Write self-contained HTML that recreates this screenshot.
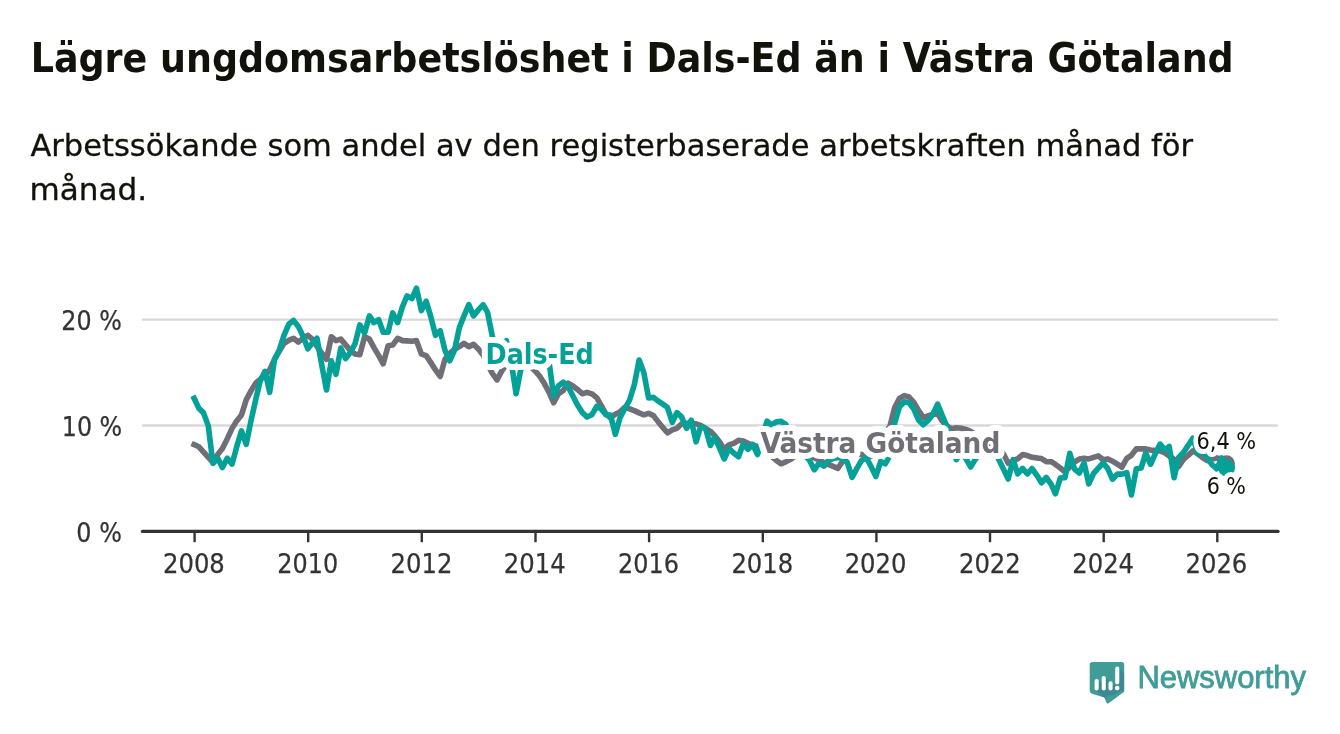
<!DOCTYPE html>
<html lang="sv">
<head>
<meta charset="utf-8">
<title>Lägre ungdomsarbetslöshet i Dals-Ed än i Västra Götaland</title>
<style>
  html, body { margin: 0; padding: 0; background: #ffffff; }
  body { width: 1340px; height: 734px; overflow: hidden; position: relative;
         font-family: "DejaVu Sans", "Liberation Sans", sans-serif; }
  svg { position: absolute; left: 0; top: 0; display: block; will-change: transform; }
  .title { font-family: "DejaVu Sans Condensed", "DejaVu Sans", "Liberation Sans", sans-serif;
           font-weight: bold; font-size: 40.6px; fill: #12120b; }
  .sub { font-family: "DejaVu Sans", "Liberation Sans", sans-serif; font-size: 30.3px; fill: #12120b; stroke: #12120b; stroke-width: 0.3px; }
  .ax { font-family: "DejaVu Sans", "Liberation Sans", sans-serif; font-size: 26.3px; fill: #333333; stroke: #333333; stroke-width: 0.25px; }
  .ser { font-family: "DejaVu Sans Condensed", "DejaVu Sans", "Liberation Sans", sans-serif;
         font-weight: bold; font-size: 28.4px; paint-order: stroke fill;
         stroke: #ffffff; stroke-width: 12px; stroke-linejoin: round; }
  .val { font-family: "DejaVu Sans", "Liberation Sans", sans-serif; font-size: 22.5px; fill: #12120b;
         paint-order: stroke fill; stroke: #ffffff; stroke-width: 10px; stroke-linejoin: round; }
  .brand { font-family: "Liberation Sans", sans-serif; font-weight: normal; font-size: 31px; fill: #419c97; stroke: #419c97; stroke-width: 0.8px; }
</style>
</head>
<body>
<svg width="1340" height="734" viewBox="0 0 1340 734">
  <rect width="1340" height="734" fill="#ffffff"/>

  <!-- headline -->
  <text class="title" x="30.69" y="71.8" textLength="1203.01" lengthAdjust="spacingAndGlyphs">Lägre ungdomsarbetslöshet i Dals-Ed än i Västra Götaland</text>
  <text class="sub" x="30.40" y="156.4" textLength="1162.60" lengthAdjust="spacingAndGlyphs">Arbetssökande som andel av den registerbaserade arbetskraften månad för</text>
  <text class="sub" x="29.52" y="199.6" textLength="117.67" lengthAdjust="spacingAndGlyphs">månad.</text>

  <!-- grid -->
  <g stroke="#d9d9d9" stroke-width="2.3" stroke-linecap="butt">
    <line x1="142" y1="319.7" x2="1278" y2="319.7"/>
    <line x1="142" y1="425.5" x2="1278" y2="425.5"/>
  </g>

  <!-- y labels -->
  <g><text class="ax" x="61.35" y="330.0" textLength="60.50" lengthAdjust="spacingAndGlyphs">20 %</text><text class="ax" x="61.75" y="435.8" textLength="60.48" lengthAdjust="spacingAndGlyphs">10 %</text><text class="ax" x="76.37" y="541.6" textLength="45.48" lengthAdjust="spacingAndGlyphs">0 %</text></g>

  <!-- series -->
  <g display="inline">
  <g fill="none" stroke-width="5.6" stroke-linejoin="round" stroke-linecap="square">
    <polyline stroke="#706e76" points="194.1,444.6 198.9,446.8 203.4,451.9 208.3,457.4 212.9,462.2 217.7,454.4 222.4,448.6 227.2,438.9 232.1,428.4 236.7,420.9 241.5,414.9 246.2,399.9 251.0,390.9 255.9,382.9 260.2,379.4 265.0,374.9 269.7,369.8 274.5,359.3 279.2,351.3 284.0,343.4 288.8,340.4 293.5,338.3 298.3,342.1 303.0,338.4 307.8,335.3 312.6,339.4 317.0,346.4 321.8,353.3 326.5,359.3 331.3,336.8 336.0,340.6 340.8,339.1 345.6,344.9 350.3,350.4 355.1,354.1 359.8,354.8 364.6,336.8 369.4,339.1 373.8,347.4 378.6,355.4 383.2,363.8 388.1,345.8 392.7,345.1 397.6,338.3 402.4,340.6 407.0,340.9 411.9,341.3 416.5,340.6 421.4,354.1 426.2,355.6 430.7,362.4 435.5,369.9 440.2,376.5 445.0,359.3 449.7,353.4 454.5,349.4 459.3,346.6 464.0,343.4 468.8,346.6 473.5,344.4 478.3,348.9 483.1,354.9 487.5,364.4 492.3,373.4 497.0,379.9 501.8,370.9 506.4,364.4 511.3,362.4 516.1,361.4 520.8,361.4 525.6,363.4 530.2,366.4 535.1,370.9 539.9,376.4 544.2,383.3 549.1,392.4 553.7,402.8 558.5,393.8 563.2,390.6 568.0,383.2 572.9,385.9 577.5,389.4 582.3,393.8 587.0,392.3 591.8,393.8 596.7,397.6 601.0,405.2 605.8,413.9 610.5,417.9 615.3,414.2 620.0,411.9 624.8,407.4 629.6,408.8 634.3,410.6 639.1,412.9 643.8,414.8 648.6,413.3 653.4,415.6 657.9,421.4 662.8,427.4 667.4,432.8 672.3,429.8 676.9,428.3 681.7,423.8 686.6,423.4 691.2,423.6 696.1,423.8 700.7,425.3 705.5,428.4 710.4,431.3 714.7,435.8 719.5,441.8 724.2,449.3 729.0,444.8 733.7,443.3 738.5,440.3 743.3,441.0 748.0,443.3 752.8,444.9 757.5,446.9 762.3,449.4 767.1,452.4 771.5,456.4 776.3,460.4 781.0,463.8 785.8,461.9 790.5,459.4 795.3,455.9 800.1,454.4 804.8,454.4 809.6,455.4 814.3,457.9 819.1,459.9 823.9,462.4 828.3,464.4 833.1,466.4 837.8,468.3 842.6,461.4 847.2,456.4 852.1,454.4 856.9,454.4 861.6,454.4 866.4,455.4 871.0,456.4 875.9,452.4 880.7,445.4 885.2,433.4 890.0,426.0 894.7,407.5 899.5,398.4 904.2,395.6 909.0,397.0 913.8,402.4 918.5,410.4 923.3,417.6 928.0,415.9 932.8,414.4 937.6,413.4 942.0,420.9 946.8,425.9 951.5,428.8 956.3,427.7 961.0,428.2 965.8,429.4 970.6,431.4 975.3,434.4 980.1,440.4 984.8,444.4 989.6,447.4 994.4,448.4 998.8,449.4 1003.6,454.3 1008.2,463.3 1013.1,460.9 1017.7,458.8 1022.6,454.6 1027.4,455.6 1032.0,457.3 1036.9,457.9 1041.5,458.6 1046.3,461.6 1051.2,461.7 1055.5,464.4 1060.3,468.0 1065.0,471.7 1069.8,466.9 1074.5,462.0 1079.3,459.1 1084.1,458.2 1088.8,458.9 1093.6,457.4 1098.3,455.9 1103.1,459.7 1107.9,458.9 1112.5,461.2 1117.3,464.2 1121.9,467.2 1126.8,458.3 1131.4,455.3 1136.3,448.9 1141.1,448.9 1145.7,448.9 1150.6,450.0 1155.2,450.6 1160.1,450.9 1164.9,452.9 1169.2,455.9 1174.1,459.4 1178.7,466.4 1183.5,459.4 1188.2,455.4 1193.0,450.9 1197.9,453.8 1202.5,457.6 1207.3,460.6 1212.0,458.9 1216.8,457.9 1221.7,459.0 1226.0,463.7"/>
  </g>
  <circle cx="1226.5" cy="463.7" r="8.5" fill="#706e76"/>
  <g fill="none" stroke-width="5.6" stroke-linejoin="round" stroke-linecap="square">
    <polyline stroke="#04a198" points="194.1,398.3 198.9,408.4 203.4,412.6 208.3,425.9 212.9,463.5 217.7,458.2 222.4,467.6 227.2,458.2 232.1,464.1 236.7,446.9 241.5,430.9 246.2,444.4 251.0,420.8 255.9,398.9 260.2,380.9 265.0,371.3 269.7,392.3 274.5,359.3 279.2,350.3 284.0,335.3 288.8,324.2 293.5,320.5 298.3,326.4 303.0,336.1 307.8,348.8 312.6,342.8 317.0,338.3 321.8,365.3 326.5,390.0 331.3,360.8 336.0,374.3 340.8,348.1 345.6,358.6 350.3,352.6 355.1,343.6 359.8,324.9 364.6,333.1 369.4,315.9 373.8,322.6 378.6,319.6 383.2,332.3 388.1,332.3 392.7,312.9 397.6,322.6 402.4,306.9 407.0,296.0 411.9,298.6 416.5,288.2 421.4,310.6 426.2,301.2 430.7,316.4 435.5,335.3 440.2,330.8 445.0,350.3 449.7,360.8 454.5,350.3 459.3,327.8 464.0,315.9 468.8,304.6 473.5,315.9 478.3,309.9 483.1,304.8 487.5,312.1 492.3,336.1 497.0,352.4 501.8,349.4 506.4,340.6 511.3,362.4 516.1,393.8 520.8,369.4 525.6,362.4 530.2,358.4 535.1,360.4 539.9,356.4 544.2,358.4 549.1,362.4 553.7,396.1 558.5,385.8 563.2,382.2 568.0,386.3 572.9,395.9 577.5,404.9 582.3,412.4 587.0,417.0 591.8,414.8 596.7,406.5 601.0,408.8 605.8,414.8 610.5,415.0 615.3,434.4 620.0,417.8 624.8,408.8 629.6,400.0 634.3,384.9 639.1,360.1 643.8,372.4 648.6,398.0 653.4,397.4 657.9,400.9 662.8,404.1 667.4,407.3 672.3,422.3 676.9,412.6 681.7,417.1 686.6,428.3 691.2,420.1 696.1,441.8 700.7,426.8 705.5,428.3 710.4,445.5 714.7,437.3 719.5,447.8 724.2,459.0 729.0,448.5 733.7,453.0 738.5,456.8 743.3,443.8 748.0,449.4 752.8,444.5 757.5,454.6 762.3,436.4 767.1,421.1 771.5,424.9 776.3,421.9 781.0,421.4 785.8,424.4 790.5,440.4 795.3,452.4 800.1,447.4 804.8,455.4 809.6,460.4 814.3,469.8 819.1,463.1 823.9,466.1 828.3,460.8 833.1,458.4 837.8,457.4 842.6,458.4 847.2,462.4 852.1,477.3 856.9,468.4 861.6,460.4 866.4,457.8 871.0,466.4 875.9,476.5 880.7,461.4 885.2,463.9 890.0,455.4 894.7,423.0 899.5,406.8 904.2,401.8 909.0,402.8 913.8,408.9 918.5,419.9 923.3,424.7 928.0,420.4 932.8,414.4 937.6,404.1 942.0,414.9 946.8,426.4 951.5,445.4 956.3,459.6 961.0,452.4 965.8,458.4 970.6,467.0 975.3,459.4 980.1,452.4 984.8,450.4 989.6,448.4 994.4,450.4 998.8,459.4 1003.6,469.4 1008.2,479.0 1013.1,459.6 1017.7,473.8 1022.6,468.5 1027.4,473.8 1032.0,468.5 1036.9,475.3 1041.5,482.8 1046.3,477.5 1051.2,484.3 1055.5,493.8 1060.3,478.0 1065.0,477.6 1069.8,453.3 1074.5,469.0 1079.3,473.0 1084.1,462.8 1088.8,483.8 1093.6,473.3 1098.3,468.1 1103.1,462.8 1107.9,468.8 1112.5,479.3 1117.3,474.1 1121.9,474.1 1126.8,472.6 1131.4,495.0 1136.3,468.8 1141.1,468.1 1145.7,453.1 1150.6,464.3 1155.2,453.8 1160.1,444.1 1164.9,450.1 1169.2,446.4 1174.1,477.8 1178.7,457.4 1183.5,452.3 1188.2,445.4 1193.0,438.1 1197.9,453.8 1202.5,450.5 1207.3,457.3 1212.0,464.7 1216.8,468.8 1221.7,458.0 1226.0,467.9"/>
  </g>
  <circle cx="1226.5" cy="467.9" r="8.5" fill="#04a198"/>

  </g>
  <!-- x axis -->
  <g stroke="#333333" stroke-width="2.4" fill="none"><line x1="194.6" y1="531.4" x2="194.6" y2="542.2" /><line x1="308.2" y1="531.4" x2="308.2" y2="542.2" /><line x1="421.8" y1="531.4" x2="421.8" y2="542.2" /><line x1="535.5" y1="531.4" x2="535.5" y2="542.2" /><line x1="649.1" y1="531.4" x2="649.1" y2="542.2" /><line x1="762.8" y1="531.4" x2="762.8" y2="542.2" /><line x1="876.4" y1="531.4" x2="876.4" y2="542.2" /><line x1="990.0" y1="531.4" x2="990.0" y2="542.2" /><line x1="1103.7" y1="531.4" x2="1103.7" y2="542.2" /><line x1="1217.3" y1="531.4" x2="1217.3" y2="542.2" /></g>
  <line x1="142.5" y1="531.4" x2="1278" y2="531.4" stroke="#333333" stroke-width="3.4" stroke-linecap="round"/>
  <g><text class="ax" x="162.97" y="573.2" textLength="61.88" lengthAdjust="spacingAndGlyphs">2008</text><text class="ax" x="277.27" y="573.2" textLength="60.84" lengthAdjust="spacingAndGlyphs">2010</text><text class="ax" x="390.54" y="573.2" textLength="61.88" lengthAdjust="spacingAndGlyphs">2012</text><text class="ax" x="503.81" y="573.2" textLength="61.88" lengthAdjust="spacingAndGlyphs">2014</text><text class="ax" x="618.10" y="573.2" textLength="60.85" lengthAdjust="spacingAndGlyphs">2016</text><text class="ax" x="731.38" y="573.2" textLength="61.88" lengthAdjust="spacingAndGlyphs">2018</text><text class="ax" x="844.66" y="573.2" textLength="61.87" lengthAdjust="spacingAndGlyphs">2020</text><text class="ax" x="958.94" y="573.2" textLength="61.88" lengthAdjust="spacingAndGlyphs">2022</text><text class="ax" x="1072.23" y="573.2" textLength="61.87" lengthAdjust="spacingAndGlyphs">2024</text><text class="ax" x="1185.47" y="573.2" textLength="61.88" lengthAdjust="spacingAndGlyphs">2026</text></g>

  <!-- series labels -->
  <text class="ser" x="485.57" y="363.5" textLength="108.14" lengthAdjust="spacingAndGlyphs" fill="#04a198">Dals-Ed</text>
  <text class="ser" x="760.59" y="452.9" textLength="239.72" lengthAdjust="spacingAndGlyphs" fill="#706e76">Västra Götaland</text>
  <text class="val" x="1196.47" y="448.9" textLength="59.66" lengthAdjust="spacingAndGlyphs">6,4 %</text>
  <text class="val" x="1206.67" y="493.5" textLength="39.33" lengthAdjust="spacingAndGlyphs">6 %</text>

  <!-- logo -->
  <defs>
    <clipPath id="bubble">
      <path d="M1092.4 662.1 H1121.5 Q1124.2 662.1 1124.2 664.8 V691.7 L1108.6 703.2 Q1107.1 704.3 1106.4 702.6 L1104.3 697.6 L1091.9 693.7 Q1089.7 693 1089.7 690.6 V664.8 Q1089.7 662.1 1092.4 662.1 Z"/>
    </clipPath>
  </defs>
  <g id="logo">
    <path d="M1092.4 662.1 H1121.5 Q1124.2 662.1 1124.2 664.8 V691.7 L1108.6 703.2 Q1107.1 704.3 1106.4 702.6 L1104.3 697.6 L1091.9 693.7 Q1089.7 693 1089.7 690.6 V664.8 Q1089.7 662.1 1092.4 662.1 Z" fill="#419c97"/>
    <g clip-path="url(#bubble)" fill="#3a6a8f" opacity="0.38">
      <path d="M1098.7 680.5 L1112 693.8 L1104.5 698.5 L1095.6 690.3 Z"/>
      <path d="M1105.8 677.5 L1119 690.7 L1112 696 L1102.6 690.3 Z"/>
      <path d="M1112.6 682.7 L1120.5 690.6 L1116 694 L1109.4 690.3 Z"/>
      <path d="M1119.3 668 L1125 673.7 V690 L1119 691.5 Z"/>
    </g>
    <g fill="#ffffff">
      <rect x="1094.6" y="679" width="4.1" height="11.6" rx="2.05"/>
      <rect x="1101.7" y="676" width="4.1" height="14.6" rx="2.05"/>
      <rect x="1108.5" y="681.2" width="4.1" height="9.4" rx="2.05"/>
      <rect x="1115.2" y="666.6" width="4.1" height="17.6" rx="2.05"/>
      <circle cx="1117.25" cy="688.1" r="2.3"/>
    </g>
  </g>
  <text class="brand" x="1137.38" y="688.2" textLength="168.62" lengthAdjust="spacingAndGlyphs">Newsworthy</text>
</svg>
</body>
</html>
